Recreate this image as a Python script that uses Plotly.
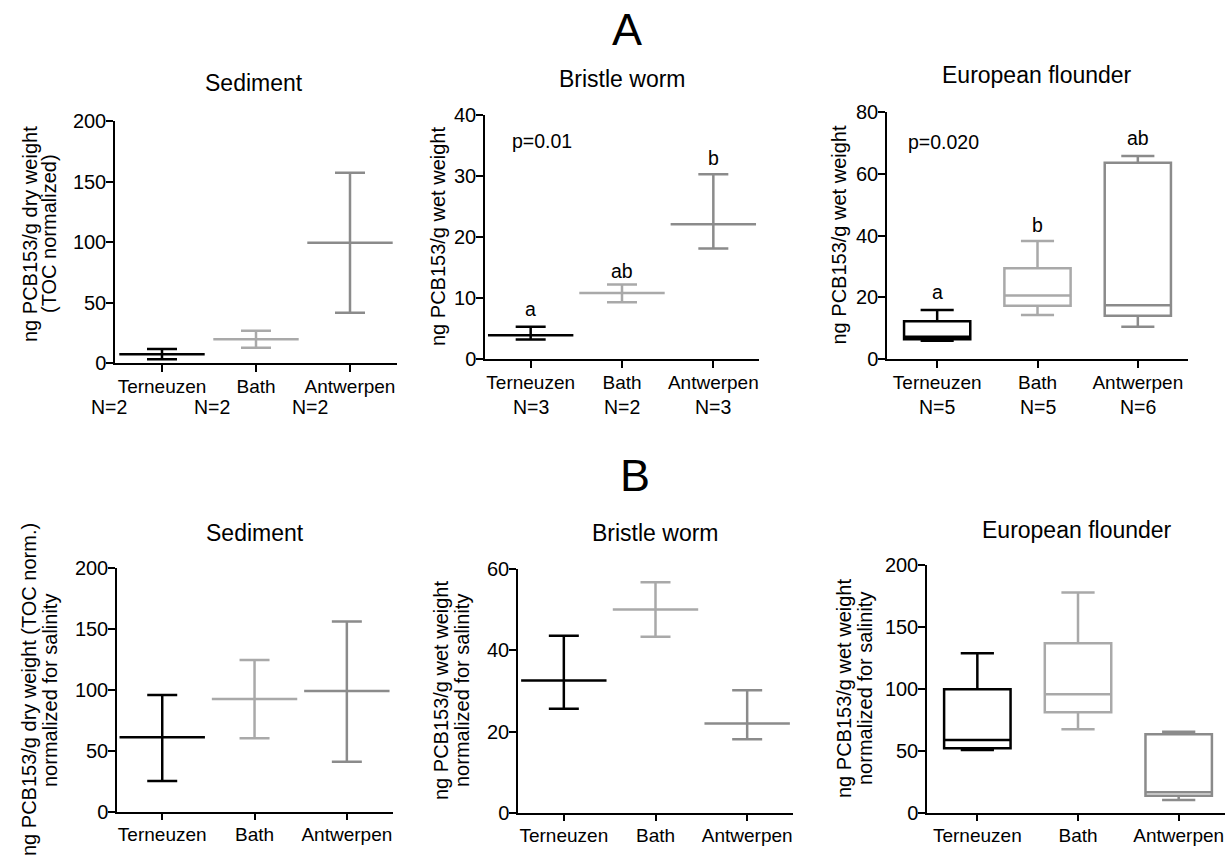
import plotly.graph_objects as go

# ---------------- data ----------------
sites = ["Terneuzen", "Bath", "Antwerpen"]
site_colors = ["#000000", "#a9a9a9", "#8b8b8b"]

# A - Sediment (TOC normalized), mean with range
sed_dw_mean = [7.4, 19.8, 99.5]
sed_dw_low = [3.3, 12.9, 41.8]
sed_dw_high = [11.8, 26.9, 157.3]
sed_dw_n = ["N=2", "N=2", "N=2"]
sed_dw_n_px = [109, 212, 310]

# A - Bristle worm (wet weight), mean with range
worm_ww_mean = [3.9, 10.8, 22.1]
worm_ww_low = [3.2, 9.3, 18.1]
worm_ww_high = [5.3, 12.2, 30.3]
worm_ww_letters = ["a", "ab", "b"]
worm_ww_letter_y = [8.2, 14.5, 33.0]
worm_ww_n = ["N=3", "N=2", "N=3"]
worm_ww_p = "p=0.01"

# A - European flounder (wet weight), box plots
fl_min = [6.0, 14.3, 10.5]
fl_q1 = [6.5, 17.3, 14.1]
fl_med = [7.3, 20.6, 17.5]
fl_q3 = [12.3, 29.4, 63.5]
fl_max = [15.9, 38.2, 65.7]
fl_letters = ["a", "b", "ab"]
fl_letter_y = [21.6, 43.4, 71.6]
fl_n = ["N=5", "N=5", "N=6"]
fl_p = "p=0.020"

# B - Sediment normalized for salinity
sed_sal_mean = [61.1, 92.6, 99.2]
sed_sal_low = [25.2, 60.3, 41.1]
sed_sal_high = [95.9, 124.7, 156.2]

# B - Bristle worm normalized for salinity
worm_sal_mean = [32.6, 50.1, 22.0]
worm_sal_low = [25.6, 43.4, 18.1]
worm_sal_high = [43.6, 56.8, 30.2]

# B - European flounder normalized for salinity
fls_min = [50.6, 67.4, 10.3]
fls_q1 = [52.0, 81.1, 13.7]
fls_med = [58.7, 95.6, 16.5]
fls_q3 = [99.6, 136.8, 63.3]
fls_max = [128.7, 177.7, 65.4]

FONT = "Liberation Sans, Arial, sans-serif"
W, H = 1225, 856
LW = 2.5

fig = go.Figure()


def range_plot(ax, means, lows, highs):
    for i in range(3):
        c = site_colors[i]
        fig.add_trace(go.Scatter(
            x=[i], y=[means[i]], mode="markers",
            marker=dict(symbol="line-ew", size=61, color=c, line=dict(color=c, width=LW)),
            error_y=dict(type="data", symmetric=False,
                         array=[highs[i] - means[i]], arrayminus=[means[i] - lows[i]],
                         color=c, thickness=LW, width=15),
            showlegend=False, hoverinfo="skip", cliponaxis=False,
            xaxis="x" + ax, yaxis="y" + ax))


def box_plot(ax, mins, q1, med, q3, maxs):
    for i in range(3):
        c = site_colors[i]
        fig.add_trace(go.Box(
            x=[i], q1=[q1[i]], median=[med[i]], q3=[q3[i]],
            lowerfence=[mins[i]], upperfence=[maxs[i]],
            width=0.66, whiskerwidth=0.5, boxpoints=False,
            line=dict(color=c, width=LW), fillcolor="rgba(0,0,0,0)",
            showlegend=False, hoverinfo="skip",
            xaxis="x" + ax, yaxis="y" + ax))


range_plot("", sed_dw_mean, sed_dw_low, sed_dw_high)
range_plot("2", worm_ww_mean, worm_ww_low, worm_ww_high)
box_plot("3", fl_min, fl_q1, fl_med, fl_q3, fl_max)
range_plot("4", sed_sal_mean, sed_sal_low, sed_sal_high)
range_plot("5", worm_sal_mean, worm_sal_low, worm_sal_high)
box_plot("6", fls_min, fls_q1, fls_med, fls_q3, fls_max)


def px_x(a, b):
    return [a / W, b / W]


def px_y(top, bottom):
    return [1 - bottom / H, 1 - top / H]


def xax(dom, anchor, rng):
    return dict(domain=dom, anchor=anchor, range=rng, tickvals=[0, 1, 2], ticktext=sites,
                showline=True, linecolor="black", linewidth=1.5, ticks="outside",
                ticklen=7, tickwidth=1.5, tickcolor="black", showgrid=False, zeroline=False,
                automargin=False, ticklabelstandoff=-2,
                tickfont=dict(size=19, color="black", family=FONT), fixedrange=True)


def yax(dom, anchor, rng, dtick):
    return dict(domain=dom, anchor=anchor, range=rng, dtick=dtick, tick0=0,
                showline=True, linecolor="black", linewidth=1.5, ticks="outside",
                ticklen=7, tickwidth=1.5, tickcolor="black", showgrid=False, zeroline=False,
                automargin=False, ticklabelstandoff=-4,
                tickfont=dict(size=20, color="black", family=FONT), fixedrange=True)


layout = dict(
    template="none",
    width=W, height=H, margin=dict(l=0, r=0, t=0, b=0, autoexpand=False),
    paper_bgcolor="white", plot_bgcolor="white", boxmode="overlay",
    font=dict(family=FONT, color="black"),
    xaxis=xax(px_x(115, 397), "y", [-0.5, 2.5]),
    yaxis=yax(px_y(121, 363.3), "x", [0, 200], 50),
    xaxis2=xax(px_x(485, 759), "y2", [-0.5, 2.5]),
    yaxis2=yax(px_y(115, 359), "x2", [0, 40], 10),
    xaxis3=xax(px_x(887, 1188), "y3", [-0.5, 2.5]),
    yaxis3=yax(px_y(111.7, 359.3), "x3", [0, 80], 20),
    xaxis4=xax(px_x(117, 393), "y4", [-0.49, 2.5]),
    yaxis4=yax(px_y(568.3, 811.7), "x4", [0, 200], 50),
    xaxis5=xax(px_x(518, 793), "y5", [-0.5, 2.5]),
    yaxis5=yax(px_y(569.3, 812.7), "x5", [0, 60], 20),
    xaxis6=xax(px_x(927, 1225), "y6", [-0.5, 2.46]),
    yaxis6=yax(px_y(565, 812.7), "x6", [0, 200], 50),
)

ann = []


def paper_text(text, x, y, size, angle=0):
    ann.append(dict(text=text, x=x / W, y=1 - y / H, xref="paper", yref="paper",
                    showarrow=False, xanchor="center", yanchor="middle", textangle=angle,
                    font=dict(size=size, color="black", family=FONT)))


def data_text(text, ax, x, y, size=19.5):
    ann.append(dict(text=text, x=x, y=y, xref="x" + ax, yref="y" + ax,
                    showarrow=False, xanchor="center", yanchor="middle",
                    font=dict(size=size, color="black", family=FONT)))


# panel letters
paper_text("A", 627, 30, 45)
paper_text("B", 635, 475, 45)

# subplot titles
paper_text("Sediment", 254, 83, 23)
paper_text("Bristle worm", 622, 79, 23)
paper_text("European flounder", 1037, 75, 23)
paper_text("Sediment", 255, 533, 23)
paper_text("Bristle worm", 655, 533, 23)
paper_text("European flounder", 1077, 530, 23)

# y axis titles
YT = 20
paper_text("ng PCB153/g dry weight", 30, 234, YT, -90)
paper_text("(TOC normalized)", 49, 234, YT, -90)
paper_text("ng PCB153/g wet weight", 438, 237, YT, -90)
paper_text("ng PCB153/g wet weight", 838, 235.5, YT, -90)
paper_text("ng PCB153/g dry weight (TOC norm.)", 29, 690, YT, -90)
paper_text("normalized for salinity", 50, 690, YT, -90)
paper_text("ng PCB153/g wet weight", 441, 691, YT, -90)
paper_text("normalized for salinity", 462, 691, YT, -90)
paper_text("ng PCB153/g wet weight", 844, 689, YT, -90)
paper_text("normalized for salinity", 865, 689, YT, -90)

# N labels
NY = 407
for i in range(3):
    paper_text(sed_dw_n[i], sed_dw_n_px[i], NY, 19.5)
    ann.append(dict(text=worm_ww_n[i], x=i, y=1 - NY / H, xref="x2", yref="paper",
                    showarrow=False, xanchor="center", yanchor="middle",
                    font=dict(size=19.5, color="black", family=FONT)))
    ann.append(dict(text=fl_n[i], x=i, y=1 - NY / H, xref="x3", yref="paper",
                    showarrow=False, xanchor="center", yanchor="middle",
                    font=dict(size=19.5, color="black", family=FONT)))
    data_text(worm_ww_letters[i], "2", i, worm_ww_letter_y[i])
    data_text(fl_letters[i], "3", i, fl_letter_y[i])

data_text(worm_ww_p, "2", 0.12, 35.7)
data_text(fl_p, "3", 0.06, 70.3)

layout["annotations"] = ann
fig.update_layout(**layout)

fig.write_html("out.html", config={"displayModeBar": False},
               post_script="document.body.style.margin='0';document.body.style.overflow='hidden';")
